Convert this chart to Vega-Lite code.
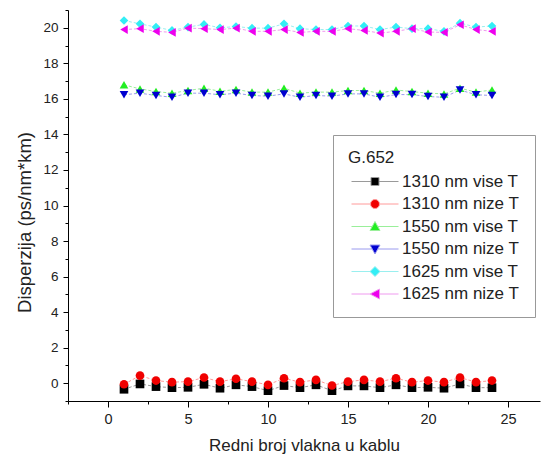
{
  "$schema": "https://vega.github.io/schema/vega-lite/v6.json",
  "width": 472,
  "height": 391,
  "autosize": {"type": "none"},
  "padding": {"left": 68, "top": 10, "right": 6, "bottom": 56},
  "background": "white",
  "config": {
    "view": {"stroke": null},
    "font": "Liberation Sans",
    "axis": {"grid": false, "domainColor": "#000", "tickColor": "#000", "labelColor": "#222", "titleColor": "#222", "labelFont": "Liberation Sans", "titleFont": "Liberation Sans", "titleFontWeight": "normal"}
  },
  "data": {"values": [
    {"fiber":1,"series":"1310 nm vise T","disp":-0.34},{"fiber":2,"series":"1310 nm vise T","disp":-0.04},{"fiber":3,"series":"1310 nm vise T","disp":-0.19},{"fiber":4,"series":"1310 nm vise T","disp":-0.25},{"fiber":5,"series":"1310 nm vise T","disp":-0.23},{"fiber":6,"series":"1310 nm vise T","disp":-0.06},{"fiber":7,"series":"1310 nm vise T","disp":-0.28},{"fiber":8,"series":"1310 nm vise T","disp":-0.09},{"fiber":9,"series":"1310 nm vise T","disp":-0.19},{"fiber":10,"series":"1310 nm vise T","disp":-0.42},{"fiber":11,"series":"1310 nm vise T","disp":-0.13},{"fiber":12,"series":"1310 nm vise T","disp":-0.25},{"fiber":13,"series":"1310 nm vise T","disp":-0.09},{"fiber":14,"series":"1310 nm vise T","disp":-0.42},{"fiber":15,"series":"1310 nm vise T","disp":-0.15},{"fiber":16,"series":"1310 nm vise T","disp":-0.15},{"fiber":17,"series":"1310 nm vise T","disp":-0.25},{"fiber":18,"series":"1310 nm vise T","disp":-0.09},{"fiber":19,"series":"1310 nm vise T","disp":-0.25},{"fiber":20,"series":"1310 nm vise T","disp":-0.23},{"fiber":21,"series":"1310 nm vise T","disp":-0.28},{"fiber":22,"series":"1310 nm vise T","disp":-0.04},{"fiber":23,"series":"1310 nm vise T","disp":-0.25},{"fiber":24,"series":"1310 nm vise T","disp":-0.25},
    {"fiber":1,"series":"1310 nm nize T","disp":-0.06},{"fiber":2,"series":"1310 nm nize T","disp":0.43},{"fiber":3,"series":"1310 nm nize T","disp":0.15},{"fiber":4,"series":"1310 nm nize T","disp":0.06},{"fiber":5,"series":"1310 nm nize T","disp":0.09},{"fiber":6,"series":"1310 nm nize T","disp":0.32},{"fiber":7,"series":"1310 nm nize T","disp":0.09},{"fiber":8,"series":"1310 nm nize T","disp":0.25},{"fiber":9,"series":"1310 nm nize T","disp":0.09},{"fiber":10,"series":"1310 nm nize T","disp":-0.09},{"fiber":11,"series":"1310 nm nize T","disp":0.28},{"fiber":12,"series":"1310 nm nize T","disp":0.06},{"fiber":13,"series":"1310 nm nize T","disp":0.19},{"fiber":14,"series":"1310 nm nize T","disp":-0.13},{"fiber":15,"series":"1310 nm nize T","disp":0.09},{"fiber":16,"series":"1310 nm nize T","disp":0.19},{"fiber":17,"series":"1310 nm nize T","disp":0.09},{"fiber":18,"series":"1310 nm nize T","disp":0.28},{"fiber":19,"series":"1310 nm nize T","disp":0.06},{"fiber":20,"series":"1310 nm nize T","disp":0.15},{"fiber":21,"series":"1310 nm nize T","disp":0.06},{"fiber":22,"series":"1310 nm nize T","disp":0.32},{"fiber":23,"series":"1310 nm nize T","disp":0.06},{"fiber":24,"series":"1310 nm nize T","disp":0.15},
    {"fiber":1,"series":"1550 nm vise T","disp":16.79},{"fiber":2,"series":"1550 nm vise T","disp":16.56},{"fiber":3,"series":"1550 nm vise T","disp":16.41},{"fiber":4,"series":"1550 nm vise T","disp":16.32},{"fiber":5,"series":"1550 nm vise T","disp":16.47},{"fiber":6,"series":"1550 nm vise T","disp":16.6},{"fiber":7,"series":"1550 nm vise T","disp":16.43},{"fiber":8,"series":"1550 nm vise T","disp":16.53},{"fiber":9,"series":"1550 nm vise T","disp":16.38},{"fiber":10,"series":"1550 nm vise T","disp":16.38},{"fiber":11,"series":"1550 nm vise T","disp":16.6},{"fiber":12,"series":"1550 nm vise T","disp":16.32},{"fiber":13,"series":"1550 nm vise T","disp":16.38},{"fiber":14,"series":"1550 nm vise T","disp":16.38},{"fiber":15,"series":"1550 nm vise T","disp":16.47},{"fiber":16,"series":"1550 nm vise T","disp":16.47},{"fiber":17,"series":"1550 nm vise T","disp":16.32},{"fiber":18,"series":"1550 nm vise T","disp":16.5},{"fiber":19,"series":"1550 nm vise T","disp":16.41},{"fiber":20,"series":"1550 nm vise T","disp":16.32},{"fiber":21,"series":"1550 nm vise T","disp":16.28},{"fiber":22,"series":"1550 nm vise T","disp":16.6},{"fiber":23,"series":"1550 nm vise T","disp":16.38},{"fiber":24,"series":"1550 nm vise T","disp":16.5},
    {"fiber":1,"series":"1550 nm nize T","disp":16.23},{"fiber":2,"series":"1550 nm nize T","disp":16.32},{"fiber":3,"series":"1550 nm nize T","disp":16.19},{"fiber":4,"series":"1550 nm nize T","disp":16.09},{"fiber":5,"series":"1550 nm nize T","disp":16.32},{"fiber":6,"series":"1550 nm nize T","disp":16.32},{"fiber":7,"series":"1550 nm nize T","disp":16.23},{"fiber":8,"series":"1550 nm nize T","disp":16.32},{"fiber":9,"series":"1550 nm nize T","disp":16.19},{"fiber":10,"series":"1550 nm nize T","disp":16.15},{"fiber":11,"series":"1550 nm nize T","disp":16.28},{"fiber":12,"series":"1550 nm nize T","disp":16.09},{"fiber":13,"series":"1550 nm nize T","disp":16.19},{"fiber":14,"series":"1550 nm nize T","disp":16.15},{"fiber":15,"series":"1550 nm nize T","disp":16.28},{"fiber":16,"series":"1550 nm nize T","disp":16.28},{"fiber":17,"series":"1550 nm nize T","disp":16.09},{"fiber":18,"series":"1550 nm nize T","disp":16.24},{"fiber":19,"series":"1550 nm nize T","disp":16.24},{"fiber":20,"series":"1550 nm nize T","disp":16.13},{"fiber":21,"series":"1550 nm nize T","disp":16.09},{"fiber":22,"series":"1550 nm nize T","disp":16.5},{"fiber":23,"series":"1550 nm nize T","disp":16.23},{"fiber":24,"series":"1550 nm nize T","disp":16.19},
    {"fiber":1,"series":"1625 nm vise T","disp":20.41},{"fiber":2,"series":"1625 nm vise T","disp":20.22},{"fiber":3,"series":"1625 nm vise T","disp":20.04},{"fiber":4,"series":"1625 nm vise T","disp":19.85},{"fiber":5,"series":"1625 nm vise T","disp":20.04},{"fiber":6,"series":"1625 nm vise T","disp":20.19},{"fiber":7,"series":"1625 nm vise T","disp":20.0},{"fiber":8,"series":"1625 nm vise T","disp":20.07},{"fiber":9,"series":"1625 nm vise T","disp":19.98},{"fiber":10,"series":"1625 nm vise T","disp":19.98},{"fiber":11,"series":"1625 nm vise T","disp":20.22},{"fiber":12,"series":"1625 nm vise T","disp":19.95},{"fiber":13,"series":"1625 nm vise T","disp":19.9},{"fiber":14,"series":"1625 nm vise T","disp":19.9},{"fiber":15,"series":"1625 nm vise T","disp":20.1},{"fiber":16,"series":"1625 nm vise T","disp":20.1},{"fiber":17,"series":"1625 nm vise T","disp":19.9},{"fiber":18,"series":"1625 nm vise T","disp":20.04},{"fiber":19,"series":"1625 nm vise T","disp":19.95},{"fiber":20,"series":"1625 nm vise T","disp":19.95},{"fiber":21,"series":"1625 nm vise T","disp":19.8},{"fiber":22,"series":"1625 nm vise T","disp":20.26},{"fiber":23,"series":"1625 nm vise T","disp":20.04},{"fiber":24,"series":"1625 nm vise T","disp":20.1},
    {"fiber":1,"series":"1625 nm nize T","disp":19.9},{"fiber":2,"series":"1625 nm nize T","disp":19.95},{"fiber":3,"series":"1625 nm nize T","disp":19.8},{"fiber":4,"series":"1625 nm nize T","disp":19.74},{"fiber":5,"series":"1625 nm nize T","disp":19.98},{"fiber":6,"series":"1625 nm nize T","disp":19.95},{"fiber":7,"series":"1625 nm nize T","disp":19.9},{"fiber":8,"series":"1625 nm nize T","disp":19.98},{"fiber":9,"series":"1625 nm nize T","disp":19.8},{"fiber":10,"series":"1625 nm nize T","disp":19.8},{"fiber":11,"series":"1625 nm nize T","disp":19.9},{"fiber":12,"series":"1625 nm nize T","disp":19.74},{"fiber":13,"series":"1625 nm nize T","disp":19.8},{"fiber":14,"series":"1625 nm nize T","disp":19.8},{"fiber":15,"series":"1625 nm nize T","disp":19.95},{"fiber":16,"series":"1625 nm nize T","disp":19.85},{"fiber":17,"series":"1625 nm nize T","disp":19.7},{"fiber":18,"series":"1625 nm nize T","disp":19.8},{"fiber":19,"series":"1625 nm nize T","disp":19.95},{"fiber":20,"series":"1625 nm nize T","disp":19.76},{"fiber":21,"series":"1625 nm nize T","disp":19.74},{"fiber":22,"series":"1625 nm nize T","disp":20.17},{"fiber":23,"series":"1625 nm nize T","disp":19.9},{"fiber":24,"series":"1625 nm nize T","disp":19.8}
  ]},
  "encoding": {
    "x": {"field": "fiber", "type": "quantitative",
      "scale": {"domain": [-2.5, 27], "nice": false, "zero": false},
      "axis": {"title": "Redni broj vlakna u kablu", "values": [-2.5, 0, 2.5, 5, 7.5, 10, 12.5, 15, 17.5, 20, 22.5, 25],
        "labelExpr": "datum.value % 5 === 0 ? datum.label : ''",
        "tickSize": {"condition": {"test": "datum.value % 5 === 0", "value": 6}, "value": 3},
        "labelFontSize": 14.5, "titleFontSize": 17,
        "labelPadding": 5, "titlePadding": 12, "labelFlush": false, "labelOverlap": false}},
    "y": {"field": "disp", "type": "quantitative",
      "scale": {"domain": [-1, 21], "nice": false, "zero": false},
      "axis": {"title": "Disperzija (ps/nm*km)", "values": [-1,0,1,2,3,4,5,6,7,8,9,10,11,12,13,14,15,16,17,18,19,20,21],
        "labelExpr": "datum.value % 2 === 0 ? datum.label : ''",
        "tickSize": {"condition": {"test": "datum.value % 2 === 0", "value": 5}, "value": 3},
        "labelFontSize": 13.5, "titleFontSize": 18.5, "titleY": 212,
        "labelPadding": 5, "titlePadding": 8, "labelFlush": false, "labelOverlap": false}}
  },
  "layer": [
    {
      "mark": {"type": "line", "strokeWidth": 1, "strokeDash": [3, 2]},
      "encoding": {
        "stroke": {"field": "series", "type": "nominal", "legend": null,
          "scale": {"domain": ["1310 nm vise T","1310 nm nize T","1550 nm vise T","1550 nm nize T","1625 nm vise T","1625 nm nize T"],
            "range": ["#9a9a9a","#ff9a9a","#9aef9a","#9a9aef","#9aefef","#ef9aef"]}},
        "detail": {"field": "series"}
      }
    },
    {
      "mark": {"type": "point", "filled": true, "opacity": 1, "size": 75},
      "encoding": {
        "color": {"field": "series", "type": "nominal", "legend": null,
          "scale": {"domain": ["1310 nm vise T","1310 nm nize T","1550 nm vise T","1550 nm nize T","1625 nm vise T","1625 nm nize T"],
            "range": ["#000000","#f00000","#22ee22","#0000d0","#33eef5","#ee00ee"]}},
        "shape": {"field": "series", "type": "nominal", "legend": null,
          "scale": {"domain": ["1310 nm vise T","1310 nm nize T","1550 nm vise T","1550 nm nize T","1625 nm vise T","1625 nm nize T"],
            "range": ["square","circle","triangle-up","triangle-down","diamond","triangle-left"]}}
      }
    },
    {
      "mark": {"type": "point", "filled": true, "opacity": 0, "size": 100, "strokeWidth": 1},
      "encoding": {
        "color": {"field": "series", "type": "nominal", "title": "G.652",
          "scale": {"domain": ["1310 nm vise T","1310 nm nize T","1550 nm vise T","1550 nm nize T","1625 nm vise T","1625 nm nize T"],
            "range": ["#000000","#f00000","#22ee22","#0000d0","#33eef5","#ee00ee"]},
          "legend": {"orient": "none", "legendX": 265, "legendY": 125, "padding": 15,
            "strokeColor": "#999", "fillColor": "white", "symbolOpacity": 1, "symbolSize": 100, "symbolStrokeWidth": 1,
            "labelFont": "Liberation Sans", "labelFontSize": 17, "labelColor": "#222", "labelOffset": 37, "labelLimit": 300,
            "titleFont": "Liberation Sans", "titleFontSize": 17, "titleFontWeight": "normal", "titleColor": "#222", "titlePadding": 6,
            "rowPadding": 4.5}},
        "stroke": {"field": "series", "type": "nominal", "title": "G.652",
          "scale": {"domain": ["1310 nm vise T","1310 nm nize T","1550 nm vise T","1550 nm nize T","1625 nm vise T","1625 nm nize T"],
            "range": ["#9a9a9a","#ff9a9a","#9aef9a","#9a9aef","#9aefef","#ef9aef"]},
          "legend": {"orient": "none", "legendX": 265, "legendY": 125, "padding": 15,
            "strokeColor": "#999", "fillColor": "white", "symbolOpacity": 1, "symbolSize": 100, "symbolStrokeWidth": 1,
            "labelFont": "Liberation Sans", "labelFontSize": 17, "labelColor": "#222", "labelOffset": 37, "labelLimit": 300,
            "titleFont": "Liberation Sans", "titleFontSize": 17, "titleFontWeight": "normal", "titleColor": "#222", "titlePadding": 6,
            "rowPadding": 4.5}},
        "shape": {"field": "series", "type": "nominal", "title": "G.652",
          "scale": {"domain": ["1310 nm vise T","1310 nm nize T","1550 nm vise T","1550 nm nize T","1625 nm vise T","1625 nm nize T"],
            "range": [
              "M-1,0H2.9M4.5,0H8.4M2.9,-0.8H4.5V0.8H2.9Z",
              "M-1,0H2.8M4.6,0H8.4M2.8,0A0.9,0.9 0 1,0 4.6,0A0.9,0.9 0 1,0 2.8,0Z",
              "M-1,0H3.1M4.3,0H8.4M3.7,-1L4.7,0.8H2.7Z",
              "M-1,0H3.1M4.3,0H8.4M3.7,1L4.7,-0.8H2.7Z",
              "M-1,0H2.7M4.7,0H8.4M3.7,-1L4.7,0L3.7,1L2.7,0Z",
              "M-1,0H2.7M4.6,0H8.4M2.7,0L4.6,-1V1Z"
            ]},
          "legend": {"orient": "none", "legendX": 265, "legendY": 125, "padding": 15,
            "strokeColor": "#999", "fillColor": "white", "symbolOpacity": 1, "symbolSize": 100, "symbolStrokeWidth": 1,
            "labelFont": "Liberation Sans", "labelFontSize": 17, "labelColor": "#222", "labelOffset": 37, "labelLimit": 300,
            "titleFont": "Liberation Sans", "titleFontSize": 17, "titleFontWeight": "normal", "titleColor": "#222", "titlePadding": 6,
            "rowPadding": 4.5}}
      }
    }
  ],
  "resolve": {"scale": {"color": "independent", "stroke": "independent", "shape": "independent"}}
}
